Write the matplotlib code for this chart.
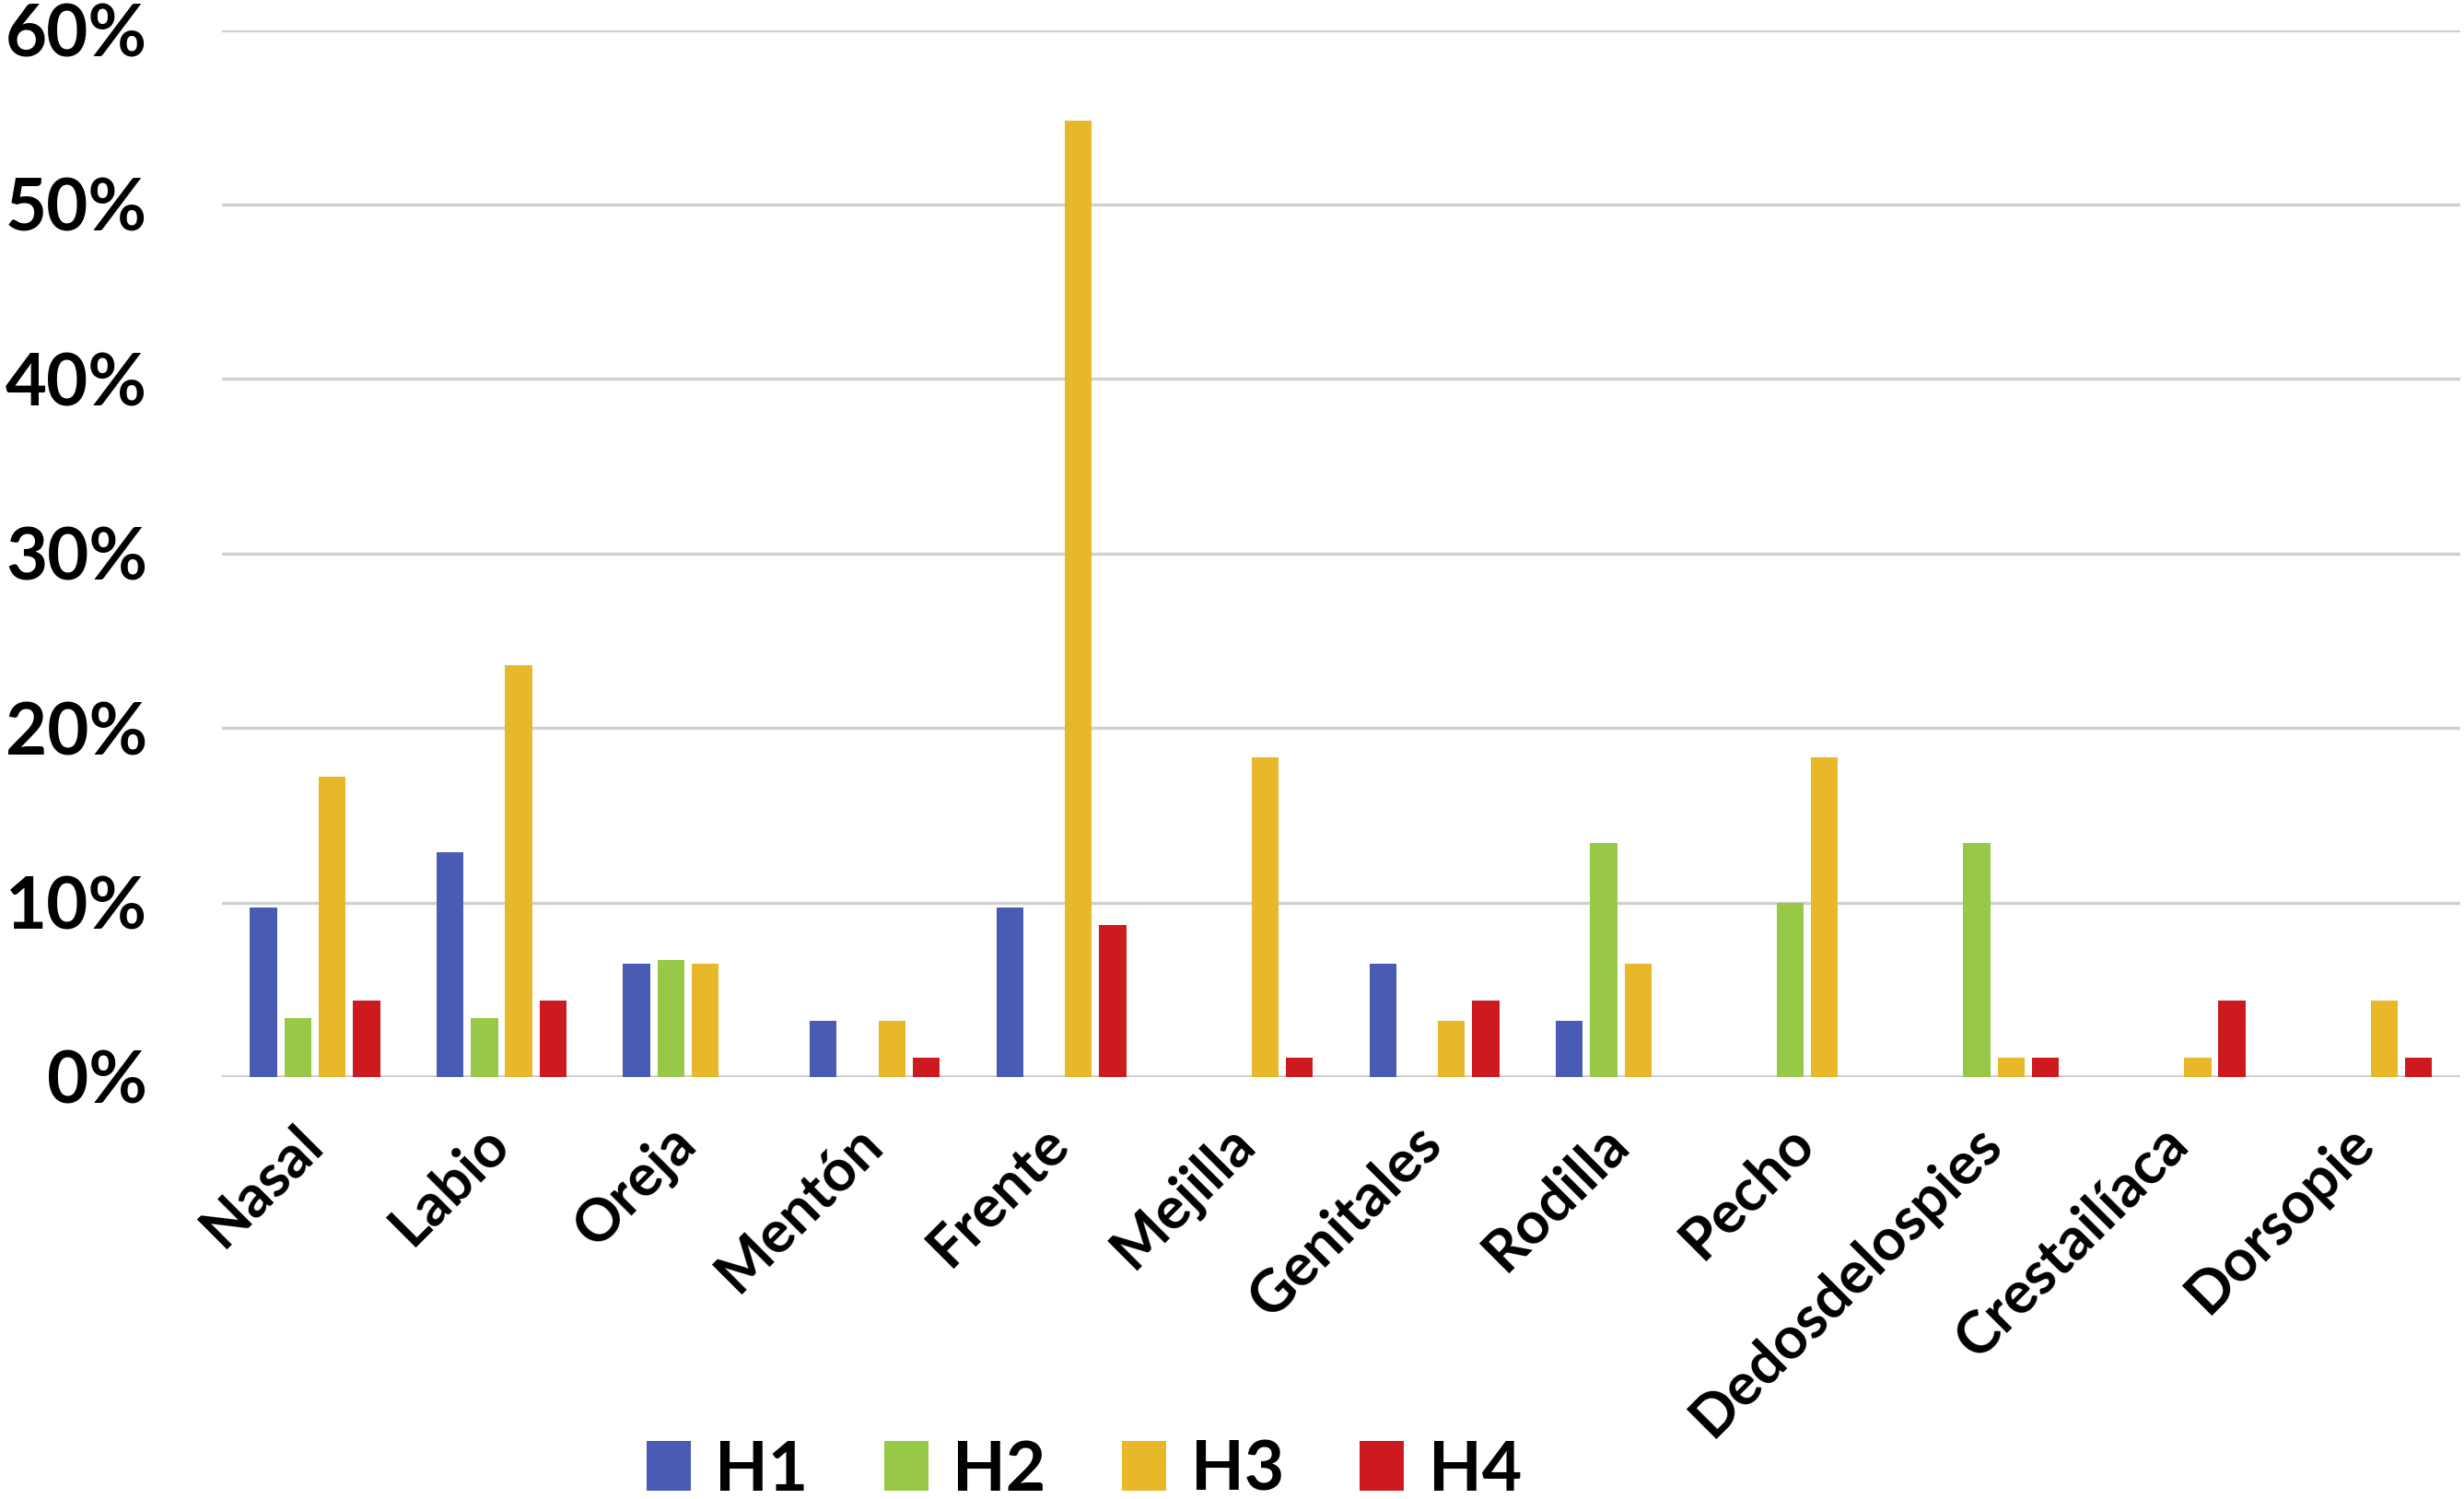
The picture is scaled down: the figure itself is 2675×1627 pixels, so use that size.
import numpy as np
import matplotlib
matplotlib.use("Agg")
import matplotlib.pyplot as plt
import matplotlib.transforms as mtransforms
from matplotlib.ticker import FuncFormatter

# Data (percent)
categories = ["Nasal", "Labio", "Oreja", "Mentón", "Frente", "Mejilla",
              "Genitales", "Rodilla", "Pecho", "Dedosdelospies",
              "Crestailíaca", "Dorsopie"]
h1 = [9.7, 12.9, 6.5, 3.2, 9.7, 0, 6.5, 3.2, 0, 0, 0, 0]
h2 = [3.4, 3.4, 6.7, 0, 0, 0, 0, 13.4, 10.0, 13.4, 0, 0]
h3 = [17.2, 23.6, 6.5, 3.2, 54.8, 18.3, 3.2, 6.5, 18.3, 1.1, 1.1, 4.4]
h4 = [4.4, 4.4, 0, 1.1, 8.7, 1.1, 4.4, 0, 0, 1.1, 4.4, 1.1]
series_names = ["H1", "H2", "H3", "H4"]
colors = ["#4A5BB5", "#97C848", "#E6B82A", "#CC1A1F"]

plt.rcParams['font.family'] = ['Lato', 'DejaVu Sans']
plt.rcParams['font.weight'] = 'bold'

fig = plt.figure(figsize=(26.75, 16.27), dpi=100)
ax = fig.add_axes([0.090, 0.2815, 0.9085, 0.6985])

x = np.arange(len(categories))
width = 0.145
step = 0.184
for i, (vals, name, col) in enumerate(zip([h1, h2, h3, h4], series_names, colors)):
    ax.bar(x + (i - 1.5) * step, vals, width, color=col, label=name, zorder=3)

ax.set_xlim(-0.5, len(categories) - 0.5)
ax.set_ylim(0, 60)
ax.set_yticks(np.arange(0, 61, 10))
ax.yaxis.set_major_formatter(FuncFormatter(lambda v, p: f"{int(v)}%"))
ax.grid(axis='y', color='#D0D0D0', linewidth=2.4, zorder=0)
for s in ['top', 'right', 'left', 'bottom']:
    ax.spines[s].set_visible(False)
ax.axhline(0, color='#CCCCCC', linewidth=2.6, zorder=2)

ax.tick_params(axis='y', length=0, labelsize=56, pad=58)
ax.set_xticks(x)
ax.set_xticklabels(categories, rotation=45, ha='right', rotation_mode='anchor',
                   fontweight='bold')
ax.tick_params(axis='x', length=0, labelsize=46, pad=30)
# nudge the rotated labels a little to the left
shift = mtransforms.ScaledTranslation(-0.22, 0, fig.dpi_scale_trans)
for lbl in ax.get_xticklabels():
    lbl.set_transform(lbl.get_transform() + shift)
for lbl in ax.get_yticklabels():
    lbl.set_fontweight('bold')

leg = fig.legend(loc='center', bbox_to_anchor=(0.44, 0.019), ncol=4,
                 frameon=False, fontsize=54, handlelength=0.64, handleheight=0.73,
                 handletextpad=0.35, columnspacing=1.1)
for t in leg.get_texts():
    t.set_fontweight('bold')

fig.savefig("out.png", dpi=100)
